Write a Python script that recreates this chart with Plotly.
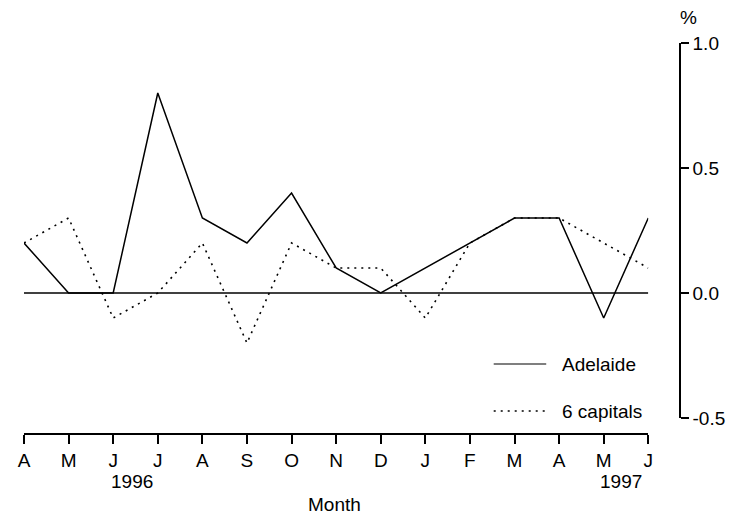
import plotly.graph_objects as go

months = ['A', 'M', 'J', 'J', 'A', 'S', 'O', 'N', 'D', 'J', 'F', 'M', 'A', 'M', 'J']
adelaide = [0.2, 0.0, 0.0, 0.8, 0.3, 0.2, 0.4, 0.1, 0.0, 0.1, 0.2, 0.3, 0.3, -0.1, 0.3]
capitals = [0.2, 0.3, -0.1, 0.0, 0.2, -0.2, 0.2, 0.1, 0.1, -0.1, 0.2, 0.3, 0.3, 0.2, 0.1]
y_ticks = [-0.5, 0.0, 0.5, 1.0]
y_labels = ['-0.5', '0.0', '0.5', '1.0']

# the page body adds an 8px margin, so the figure is drawn 8px smaller
OFF = 8
W, H = 736 - OFF, 517 - OFF
# plot box in screen pixels: x 18..680, y 43..434
L, R, T, B = 18 - OFF, 736 - 680, 43 - OFF, 517 - 434


def px(x):
    return (x - 18) / (680 - 18)


def py(y):
    return (434 - y) / (434 - 43)


font = dict(family='Liberation Sans, Arial, sans-serif', size=19, color='black')
idx = list(range(len(months)))

fig = go.Figure()

fig.add_trace(go.Scatter(
    x=idx, y=adelaide, mode='lines', name='Adelaide',
    line=dict(color='black', width=1.5)
))
fig.add_trace(go.Scatter(
    x=idx, y=capitals, mode='lines', name='6 capitals',
    line=dict(color='black', width=1.6, dash='2px,5px')
))

# zero line across the data span only
fig.add_shape(type='line', xref='x', yref='y', x0=idx[0], x1=idx[-1], y0=0, y1=0,
              line=dict(color='black', width=1.5))

# hand-made legend
fig.add_shape(type='line', xref='paper', yref='paper', x0=px(492), x1=px(545), y0=py(364), y1=py(364),
              line=dict(color='black', width=1.2))
fig.add_shape(type='line', xref='paper', yref='paper', x0=px(492), x1=px(545), y0=py(411), y1=py(411),
              line=dict(color='black', width=1.4, dash='2px,5px'))
fig.add_annotation(text='Adelaide', xref='paper', yref='paper', x=px(559), y=py(364),
                   xanchor='left', yanchor='middle', showarrow=False, font=font)
fig.add_annotation(text='6 capitals', xref='paper', yref='paper', x=px(559), y=py(411),
                   xanchor='left', yanchor='middle', showarrow=False, font=font)

# years, axis title, unit
fig.add_annotation(text='1996', xref='paper', yref='paper', x=px(127), y=py(481),
                   xanchor='center', yanchor='middle', showarrow=False, font=font)
fig.add_annotation(text='1997', xref='paper', yref='paper', x=px(620), y=py(481),
                   xanchor='center', yanchor='middle', showarrow=False, font=font)
fig.add_annotation(text='Month', xref='paper', yref='paper', x=px(331), y=py(505),
                   xanchor='center', yanchor='middle', showarrow=False, font=font)
fig.add_annotation(text='%', xref='paper', yref='paper', x=px(689), y=py(18),
                   xanchor='center', yanchor='middle', showarrow=False, font=font)

fig.update_layout(
    width=W, height=H,
    margin=dict(l=L, r=R, t=T, b=B),
    paper_bgcolor='white', plot_bgcolor='white',
    showlegend=False,
    font=font,
)
fig.update_xaxes(
    domain=[0, px(648)], range=[idx[0], idx[-1]],
    tickvals=idx, ticktext=months,
    showline=True, linecolor='black', linewidth=1.5,
    ticks='outside', ticklen=9, tickwidth=1.5, tickcolor='black',
    showgrid=False, zeroline=False,
    anchor='free', position=0,
)
fig.update_yaxes(
    domain=[py(418), 1], range=[-0.5, 1.0],
    tickvals=y_ticks, ticktext=y_labels,
    side='right', anchor='free', position=1,
    showline=True, linecolor='black', linewidth=1.5,
    ticks='outside', ticklen=8, tickwidth=1.5, tickcolor='black',
    showgrid=False, zeroline=False,
)

fig.write_html("out.html")
